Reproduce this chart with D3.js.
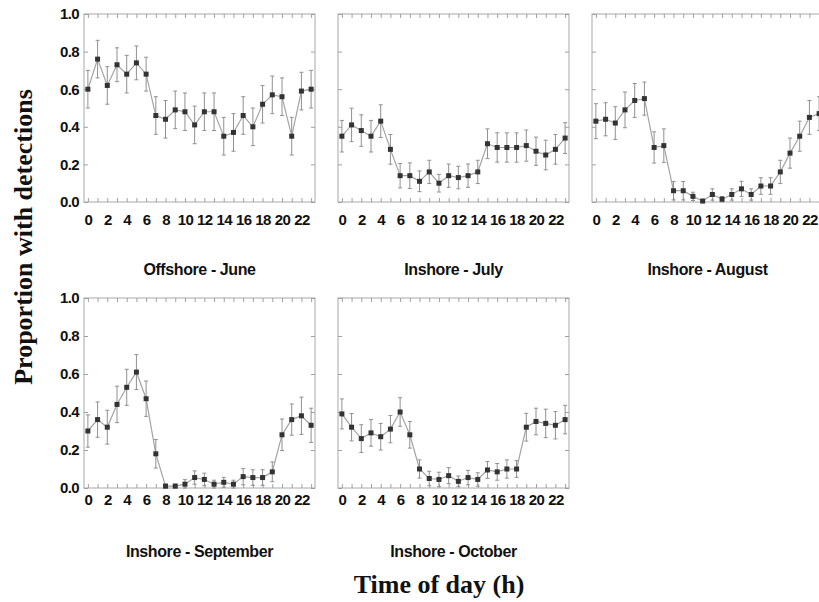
<!DOCTYPE html>
<meta charset="utf-8">
<script src="https://d3js.org/d3.v7.min.js"></script>
<style>
  body { margin: 0; background: #fff; }
  .tick text { font-family: "Liberation Sans", Arial, sans-serif; font-weight: bold; font-size: 15px; letter-spacing: -0.6px; fill: #111; }
</style>
<body>
<div id="chart"></div>
<script>
// hours of the day (x categories)
var hours = [0,1,2,3,4,5,6,7,8,9,10,11,12,13,14,15,16,17,18,19,20,21,22,23];
var xTickLabels = [0,2,4,6,8,10,12,14,16,18,20,22];
var yTickLabels = [0.0,0.2,0.4,0.6,0.8,1.0];

var panelTitles = ["Offshore - June", "Inshore - July", "Inshore - August", "Inshore - September", "Inshore - October"];

// proportion with detections, per hour
var offshoreJune = [0.60,0.76,0.62,0.73,0.68,0.74,0.68,0.46,0.44,0.49,0.48,0.41,0.48,0.48,0.35,0.37,0.46,0.40,0.52,0.57,0.56,0.35,0.59,0.60];
var offshoreJuneErr = [0.10,0.10,0.10,0.09,0.10,0.09,0.09,0.10,0.10,0.10,0.10,0.10,0.10,0.10,0.10,0.10,0.10,0.10,0.10,0.10,0.10,0.10,0.10,0.10];

var inshoreJuly = [0.35,0.41,0.38,0.35,0.43,0.28,0.14,0.14,0.11,0.16,0.10,0.14,0.13,0.14,0.16,0.31,0.29,0.29,0.29,0.30,0.27,0.25,0.28,0.34];
var inshoreJulyErr = [0.084,0.089,0.084,0.084,0.087,0.079,0.065,0.068,0.055,0.062,0.047,0.062,0.060,0.062,0.062,0.079,0.078,0.078,0.078,0.083,0.075,0.079,0.079,0.082];

var inshoreAugust = [0.43,0.44,0.42,0.49,0.54,0.55,0.29,0.30,0.06,0.06,0.03,0.005,0.04,0.015,0.04,0.07,0.04,0.085,0.085,0.16,0.26,0.35,0.45,0.47];
var inshoreAugustErr = [0.093,0.088,0.087,0.095,0.09,0.088,0.083,0.089,0.049,0.049,0.022,0.008,0.03,0.014,0.03,0.04,0.03,0.044,0.044,0.062,0.08,0.08,0.09,0.09];

var inshoreSeptember = [0.30,0.36,0.32,0.44,0.53,0.61,0.47,0.18,0.01,0.01,0.02,0.055,0.045,0.02,0.03,0.02,0.06,0.055,0.055,0.085,0.28,0.36,0.38,0.33];
var inshoreSeptemberErr = [0.085,0.093,0.089,0.096,0.095,0.092,0.093,0.075,0.01,0.01,0.024,0.035,0.033,0.021,0.026,0.021,0.043,0.041,0.041,0.052,0.083,0.082,0.098,0.09];

var inshoreOctober = [0.39,0.32,0.26,0.29,0.27,0.31,0.40,0.28,0.10,0.05,0.045,0.065,0.035,0.055,0.045,0.095,0.085,0.10,0.10,0.32,0.35,0.34,0.33,0.36];
var inshoreOctoberErr = [0.079,0.072,0.073,0.07,0.07,0.072,0.075,0.07,0.048,0.038,0.038,0.042,0.028,0.038,0.035,0.044,0.044,0.048,0.044,0.073,0.07,0.075,0.072,0.075];

var series = [
  { title: panelTitles[0], values: offshoreJune, err: offshoreJuneErr },
  { title: panelTitles[1], values: inshoreJuly, err: inshoreJulyErr },
  { title: panelTitles[2], values: inshoreAugust, err: inshoreAugustErr },
  { title: panelTitles[3], values: inshoreSeptember, err: inshoreSeptemberErr },
  { title: panelTitles[4], values: inshoreOctober, err: inshoreOctoberErr }
];

// layout of the five panels
var panelW = 231;
var layout = [
  { left: 84,  top: 14,  h: 188, yLabels: true,  pad: 12 },
  { left: 338, top: 14,  h: 188, yLabels: false, pad: 12 },
  { left: 592, top: 14,  h: 188, yLabels: false, pad: 12 },
  { left: 84,  top: 298, h: 190, yLabels: true,  pad: 6 },
  { left: 338, top: 298, h: 190, yLabels: false, pad: 6 }
];

var svg = d3.select("#chart")
  .append("svg")
  .attr("width", 819)
  .attr("height", 602)
  .style("display", "block");

var x = d3.scaleLinear().domain([-0.4, 23.4]).range([0, panelW]);

series.forEach(function (s, i) {
  var L = layout[i];
  var y = d3.scaleLinear().domain([0, 1]).range([L.h, 0]);
  var g = svg.append("g").attr("transform", "translate(" + L.left + "," + L.top + ")");

  // frame
  g.append("rect")
    .attr("width", panelW).attr("height", L.h)
    .attr("fill", "#fff").attr("stroke", "#a8a8a8").attr("stroke-width", 1);

  // bottom axis (ticks inward, even hours labelled)
  g.append("g")
    .attr("transform", "translate(0," + L.h + ")")
    .call(d3.axisBottom(x).tickValues(hours).tickSize(-4).tickPadding(L.pad)
      .tickFormat(function (d) { return xTickLabels.indexOf(d) >= 0 ? d : ""; }));
  // top axis
  g.append("g")
    .call(d3.axisTop(x).tickValues(hours).tickSize(-4).tickFormat(""));
  // left axis
  g.append("g")
    .call(d3.axisLeft(y).tickValues(yTickLabels).tickSize(-4).tickPadding(5)
      .tickFormat(L.yLabels ? d3.format(".1f") : ""));
  // right axis
  g.append("g")
    .attr("transform", "translate(" + panelW + ",0)")
    .call(d3.axisRight(y).tickValues(yTickLabels).tickSize(-4).tickFormat(""));

  g.selectAll(".domain").remove();
  g.selectAll(".tick line").attr("stroke", "#a0a0a0");

  var pts = hours.map(function (h, j) { return { h: h, v: s.values[j], e: s.err[j] }; });

  // connecting line
  g.append("path")
    .datum(pts)
    .attr("fill", "none")
    .attr("stroke", "#a4a4a4")
    .attr("stroke-width", 1.2)
    .attr("d", d3.line()
      .x(function (d) { return x(d.h); })
      .y(function (d) { return y(d.v); }));

  // error bars
  var eb = g.append("g").attr("stroke", "#909090").attr("stroke-width", 1);
  pts.forEach(function (d) {
    var cx = x(d.h);
    var y1 = y(Math.min(1, d.v + d.e));
    var y0 = y(Math.max(0, d.v - d.e));
    eb.append("line").attr("x1", cx).attr("x2", cx).attr("y1", y1).attr("y2", y0);
    eb.append("line").attr("x1", cx - 2).attr("x2", cx + 2).attr("y1", y1).attr("y2", y1);
    eb.append("line").attr("x1", cx - 2).attr("x2", cx + 2).attr("y1", y0).attr("y2", y0);
  });

  // markers
  g.append("g")
    .selectAll("rect")
    .data(pts)
    .enter()
    .append("rect")
    .attr("x", function (d) { return x(d.h) - 2.5; })
    .attr("y", function (d) { return y(d.v) - 2.5; })
    .attr("width", 5)
    .attr("height", 5)
    .attr("fill", "#333");

  // panel title
  svg.append("text")
    .attr("x", L.left + panelW / 2)
    .attr("y", i < 3 ? 275 : 557)
    .attr("text-anchor", "middle")
    .style("font-family", "'Liberation Sans', Arial, sans-serif")
    .style("font-weight", "bold")
    .style("font-size", "16px")
    .style("letter-spacing", "-0.4px")
    .style("fill", "#111")
    .text(s.title);
});

// axis titles
svg.append("text")
  .attr("transform", "translate(32,237) rotate(-90)")
  .attr("text-anchor", "middle")
  .style("font-family", "'Liberation Serif', 'Times New Roman', serif")
  .style("font-weight", "bold")
  .style("font-size", "26px")
  .style("fill", "#111")
  .text("Proportion with detections");

svg.append("text")
  .attr("x", 439)
  .attr("y", 593)
  .attr("text-anchor", "middle")
  .style("font-family", "'Liberation Serif', 'Times New Roman', serif")
  .style("font-weight", "bold")
  .style("font-size", "26px")
  .style("fill", "#111")
  .text("Time of day (h)");
</script>
</body>
